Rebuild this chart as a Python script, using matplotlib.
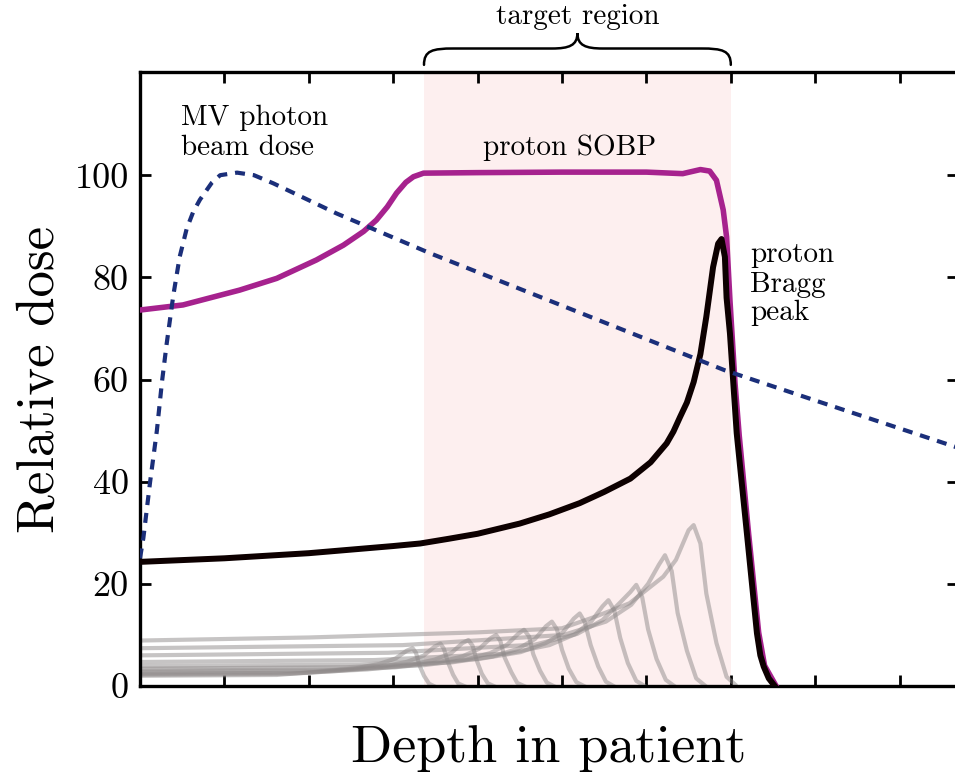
import matplotlib
matplotlib.use('Agg')
import matplotlib.pyplot as plt
from matplotlib.path import Path
from matplotlib.patches import PathPatch

plt.rcParams['font.family'] = 'serif'
plt.rcParams['font.serif'] = ['cmr10']
plt.rcParams['mathtext.fontset'] = 'cm'
plt.rcParams['axes.unicode_minus'] = False

# ── Data ──────────────────────────────────────────────────────────────────────
# MV photon depth dose (dashed)
photon_x = [0, 0.04, 0.08, 0.12, 0.2, 0.26, 0.316, 0.395, 0.47, 0.553, 0.63, 0.71, 0.85,
            0.95, 1.15, 1.35, 1.58, 2.33, 2.8, 3.44, 4.98, 6.93, 8.0, 9.7]
photon_y = [25, 29, 34.5, 40, 50, 59.5, 67, 76.5, 84, 89.5, 92.8, 95.2, 98.5,
            100, 100.5, 100, 98.4, 92.5, 89.2, 84.7, 74.6, 61.8, 55.9, 46.6]

# spread-out Bragg peak
sobp_x = [0, 0.51, 1.18, 1.62, 2.09, 2.41, 2.65, 2.80, 2.93, 3.04, 3.15, 3.24, 3.36, 4.0,
          5.0, 6.0, 6.43, 6.64, 6.75, 6.83, 6.91, 6.95, 6.99, 7.05, 7.1, 7.21, 7.33, 7.4, 7.53]
sobp_y = [73.6, 74.6, 77.5, 79.8, 83.4, 86.3, 89.0, 91.2, 93.8, 96.5, 98.6, 99.7, 100.4, 100.5,
          100.6, 100.6, 100.3, 101.1, 100.8, 99.0, 93.2, 87.9, 75.5, 59.3, 49.0, 30.0, 10.5, 4.0, 0.2]

# single pristine Bragg peak
bragg_x = [0, 1, 2, 3, 3.32, 3.65, 4.0, 4.5, 4.85, 5.21, 5.5, 5.81, 6.05, 6.24, 6.32, 6.40,
           6.48, 6.56, 6.64, 6.71, 6.79, 6.85, 6.89, 6.93, 6.95, 6.99, 7.07, 7.19, 7.31,
           7.35, 7.39, 7.45, 7.52]
bragg_y = [24.3, 25.0, 26.0, 27.4, 27.9, 28.8, 29.8, 31.8, 33.6, 35.8, 38.0, 40.6, 43.8, 47.5,
           49.8, 52.7, 55.5, 59.5, 65.0, 72.3, 82.0, 86.6, 87.5, 84.0, 76.0, 69.0, 49.5, 30.0,
           10.3, 6.0, 3.8, 1.5, 0.0]

# weighted component peaks that build up the SOBP (grey)
comp_x = [
    [0, 1.62, 2.03, 2.53, 2.83, 3.03, 3.16, 3.23, 3.27, 3.31, 3.365, 3.425, 3.48],
    [0, 1.78, 2.36, 2.86, 3.16, 3.36, 3.49, 3.56, 3.60, 3.65, 3.71, 3.77, 3.84],
    [0, 1.95, 2.69, 3.19, 3.49, 3.69, 3.82, 3.89, 3.94, 3.99, 4.05, 4.12, 4.19],
    [0, 2.11, 3.02, 3.52, 3.82, 4.02, 4.15, 4.22, 4.27, 4.32, 4.40, 4.47, 4.55],
    [0, 2.28, 3.35, 3.85, 4.15, 4.35, 4.48, 4.55, 4.61, 4.66, 4.74, 4.82, 4.90],
    [0, 2.44, 3.68, 4.18, 4.48, 4.68, 4.81, 4.88, 4.94, 5.00, 5.08, 5.17, 5.26],
    [0, 2.60, 4.01, 4.51, 4.81, 5.01, 5.14, 5.21, 5.27, 5.34, 5.43, 5.52, 5.61],
    [0, 2.78, 4.35, 4.85, 5.15, 5.35, 5.48, 5.55, 5.62, 5.69, 5.78, 5.88, 5.98],
    [0, 2.94, 4.68, 5.18, 5.48, 5.68, 5.81, 5.88, 5.95, 6.02, 6.12, 6.23, 6.33],
    [0, 3.11, 5.02, 5.52, 5.82, 6.02, 6.15, 6.22, 6.30, 6.37, 6.48, 6.59, 6.70],
    [0, 2.0, 4.0, 5.0, 5.4, 5.8, 6.0, 6.2, 6.35, 6.5, 6.56, 6.64, 6.71, 6.83, 6.95, 7.05],
]
comp_y = [
    [2.0, 2.16, 2.7, 3.4, 4.3, 5.4, 6.9, 7.4, 6.5, 4.1, 2.0, 0.45, 0],
    [2.2, 2.38, 2.97, 3.74, 4.73, 5.94, 7.7, 8.3, 7.3, 4.6, 2.2, 0.5, 0],
    [2.4, 2.6, 3.24, 4.08, 5.16, 6.48, 8.4, 9.0, 7.9, 5.0, 2.4, 0.54, 0],
    [2.7, 2.92, 3.65, 4.59, 5.8, 7.3, 9.3, 10.0, 8.8, 5.6, 2.7, 0.6, 0],
    [3.0, 3.24, 4.05, 5.1, 6.45, 8.1, 10.2, 11.0, 9.7, 6.2, 3.0, 0.66, 0],
    [3.4, 3.67, 4.59, 5.78, 7.3, 9.2, 11.7, 12.6, 11.1, 7.1, 3.4, 0.76, 0],
    [3.9, 4.2, 5.27, 6.63, 8.4, 10.5, 13.2, 14.2, 12.5, 8.0, 3.8, 0.85, 0],
    [4.7, 5.08, 6.35, 8.0, 10.1, 12.7, 15.6, 16.8, 14.8, 9.4, 4.5, 1.0, 0],
    [6.0, 6.5, 8.1, 10.2, 12.9, 16.2, 18.4, 19.8, 17.4, 11.1, 5.3, 1.2, 0],
    [7.4, 8.0, 10.0, 12.6, 15.9, 20.0, 23.8, 25.6, 22.5, 14.3, 6.9, 1.5, 0],
    [8.9, 9.5, 10.5, 11.3, 13.6, 16.2, 18.8, 21.4, 24.7, 30.5, 31.5, 27.9, 18.1, 8.4, 1.8, 0.3],
]

target_start, target_end = 3.365, 7.0
y_ticks = [0, 20, 40, 60, 80, 100]
x_ticks = list(range(10))

# ── Figure ────────────────────────────────────────────────────────────────────
fig = plt.figure(figsize=(9.55, 7.76), dpi=100)
ax = fig.add_axes([140/955, 1 - 686/776, 818/955, (686 - 72)/776])

ax.axvspan(target_start, target_end, color='#fdefef', lw=0, zorder=0)

for cx, cy in zip(comp_x, comp_y):
    ax.plot(cx, cy, color='#8f8a8a', alpha=0.5, lw=3.0, zorder=2,
            solid_joinstyle='round')

ax.plot(sobp_x, sobp_y, color='#a6228e', lw=4.0, zorder=3, solid_joinstyle='round')
ax.plot(bragg_x, bragg_y, color='#0d0000', lw=4.3, zorder=4, solid_joinstyle='round')
ax.plot(photon_x, photon_y, color='#1b2f7a', lw=3.0, ls=(0, (2.4, 1.9)), zorder=5)

ax.set_xlim(0, 818/84.4)
ax.set_ylim(0, 120.2)
ax.set_xticks(x_ticks)
ax.set_xticklabels([])
ax.set_yticks(y_ticks)
ax.tick_params(direction='in', length=8, width=2, top=True, right=True,
               labelsize=26, pad=8)
for s in ax.spines.values():
    s.set_linewidth(2.4)

ax.set_ylabel('Relative dose', fontsize=38, labelpad=8)
ax.set_xlabel('Depth in patient', fontsize=39, labelpad=20)

# annotations
ax.text(0.486, 109.8, 'MV photon', fontsize=21, va='baseline')
ax.text(0.486, 103.9, 'beam dose', fontsize=21, va='baseline')
ax.text(5.09, 103.9, 'proton SOBP', fontsize=21, va='baseline', ha='center')
ax.text(7.23, 83.0, 'proton', fontsize=21, va='baseline')
ax.text(7.23, 77.2, 'Bragg', fontsize=21, va='baseline')
ax.text(7.23, 71.6, 'peak', fontsize=21, va='baseline')

mid = (target_start + target_end) / 2
ax.text(mid, 129.6, 'target region', fontsize=21, va='baseline', ha='center',
        clip_on=False)

# curly brace over the target region
y0, y1, y2 = 121.6, 124.8, 127.8
verts = [
    (target_start, y0),
    (target_start, y1 - 0.4), (target_start + 0.1, y1), (target_start + 0.35, y1),
    (mid - 0.3, y1),
    (mid - 0.1, y1), (mid, y1 + 0.6), (mid, y2),
    (mid, y1 + 0.6), (mid + 0.1, y1), (mid + 0.3, y1),
    (target_end - 0.35, y1),
    (target_end - 0.1, y1), (target_end, y1 - 0.4), (target_end, y0),
]
codes = [Path.MOVETO,
         Path.CURVE4, Path.CURVE4, Path.CURVE4,
         Path.LINETO,
         Path.CURVE4, Path.CURVE4, Path.CURVE4,
         Path.CURVE4, Path.CURVE4, Path.CURVE4,
         Path.LINETO,
         Path.CURVE4, Path.CURVE4, Path.CURVE4]
brace = PathPatch(Path(verts, codes), fill=False, lw=1.8, color='black',
                  clip_on=False, capstyle='round')
ax.add_patch(brace)

plt.savefig('out.png', dpi=100)
plt.close()
